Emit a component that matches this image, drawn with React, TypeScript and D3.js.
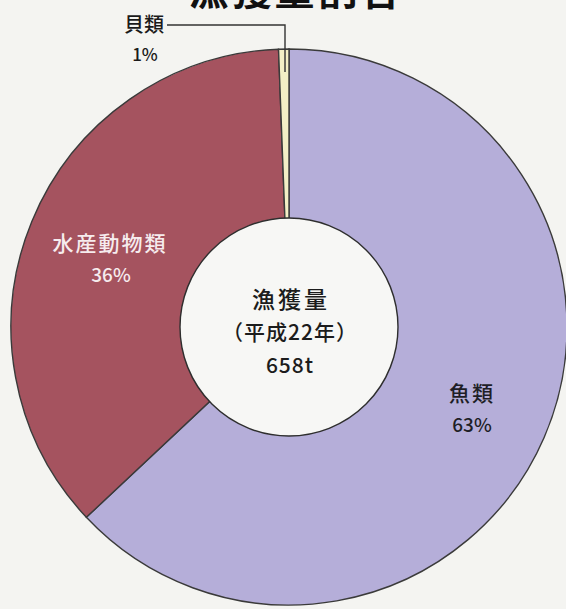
import React from "react";
import * as d3 from "d3";

const categories = ["魚類", "水産動物類", "貝類"];
const shares = [63, 36.4, 0.6];
const shareLabels = ["63%", "36%", "1%"];
const centerLines = ["漁獲量", "（平成22年）", "658t"];
const title = "漁獲量割合";

const W = 566;
const H = 609;
const colors = ["#b5aed9", "#a5535f", "#f3efc6"];

export default function App() {
  const cx = 289;
  const cy = 327;
  const R = 278;
  const r = 109;

  const pie = d3.pie<number>().sort(null).value((d) => d)(shares);
  const arc = d3.arc<d3.PieArcDatum<number>>().innerRadius(0).outerRadius(R);

  const font = "'Noto Sans CJK JP', 'Noto Sans', sans-serif";

  return (
    <svg
      width={W}
      height={H}
      style={{ position: "absolute", left: 0, top: 0, background: "#f4f4f1" }}
    >
      <text
        x={296}
        y={5}
        textAnchor="middle"
        fontFamily={font}
        fontWeight={700}
        fontSize={40}
        letterSpacing={3}
        fill="#111"
      >
        {title}
      </text>
      <g transform={`translate(${cx},${cy})`}>
        {pie.map((p, i) => (
          <path
            key={categories[i]}
            d={arc(p) || ""}
            fill={colors[i]}
            stroke="#3a3a3a"
            strokeWidth={1.4}
          />
        ))}
        <circle r={r} cx={0} cy={0} fill="#f7f7f5" stroke="#2e2e2e" strokeWidth={1.4} />
      </g>
      {/* leader line for 貝類 */}
      <polyline
        points="167,25 285,25 285,72"
        fill="none"
        stroke="#333"
        strokeWidth={1.4}
      />
      {/* 貝類 */}
      <text x={144} y={23} textAnchor="middle" dominantBaseline="central" fontFamily={font} fontWeight={500} fontSize={20} fill="#1a1a1a">
        {categories[2]}
      </text>
      <text x={145} y={53} textAnchor="middle" dominantBaseline="central" fontFamily={font} fontWeight={500} fontSize={17} fill="#1a1a1a">
        {shareLabels[2]}
      </text>
      {/* 水産動物類 */}
      <text x={110} y={242} textAnchor="middle" dominantBaseline="central" fontFamily={font} fontWeight={500} fontSize={21} letterSpacing={2} fill="#f6ecee">
        {categories[1]}
      </text>
      <text x={111} y={273} textAnchor="middle" dominantBaseline="central" fontFamily={font} fontWeight={500} fontSize={19} fill="#f6ecee">
        {shareLabels[1]}
      </text>
      {/* 魚類 */}
      <text x={472} y={392} textAnchor="middle" dominantBaseline="central" fontFamily={font} fontWeight={500} fontSize={21} letterSpacing={2} fill="#1e1e26">
        {categories[0]}
      </text>
      <text x={472} y={423} textAnchor="middle" dominantBaseline="central" fontFamily={font} fontWeight={500} fontSize={19} fill="#1e1e26">
        {shareLabels[0]}
      </text>
      {/* center */}
      {centerLines.map((t, i) => (
        <text
          key={t}
          x={i === 0 ? 291 : 290}
          y={298 + i * 33}
          textAnchor="middle"
          dominantBaseline="central"
          fontFamily={font}
          fontWeight={500}
          fontSize={i === 0 ? 23 : 21}
          letterSpacing={i === 0 ? 3 : 1}
          fill="#1c1c1c"
        >
          {t}
        </text>
      ))}
    </svg>
  );
}
